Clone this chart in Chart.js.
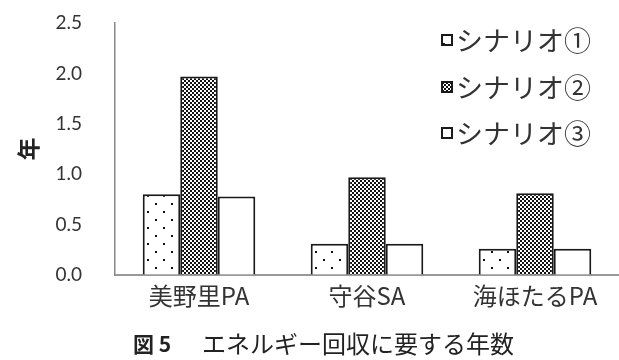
<!DOCTYPE html>
<html>
<head>
<meta charset="utf-8">
<script src="https://cdn.jsdelivr.net/npm/chart.js@4"></script>
<style>
  html, body { margin: 0; padding: 0; background: #fff; }
  #wrap { width: 619px; height: 360px; position: relative; }
</style>
</head>
<body>
<div id="wrap"><canvas id="c" width="619" height="360"></canvas></div>
<script>
// Payback period (years) for each service area under three scenarios
const categories = ['美野里PA', '守谷SA', '海ほたるPA'];
const seriesNames = ['シナリオ①', 'シナリオ②', 'シナリオ③'];
const scenario1 = [0.80, 0.31, 0.26];
const scenario2 = [1.97, 0.97, 0.81];
const scenario3 = [0.78, 0.31, 0.26];
const yTicks = [0, 0.5, 1.0, 1.5, 2.0, 2.5];
const yTitle = '年';
const captionHead = '図 5';
const captionBody = 'エネルギー回収に要する年数';

// Fill patterns: sparse dots, fine checkerboard, plain white
function makeTile(w, h, draw) {
  const cv = document.createElement('canvas');
  cv.width = w; cv.height = h;
  const g = cv.getContext('2d');
  g.fillStyle = '#fff';
  g.fillRect(0, 0, w, h);
  draw(g);
  return document.createElement('canvas').getContext('2d').createPattern(cv, 'repeat');
}
const dotFill = makeTile(16, 16, g => {
  g.fillStyle = '#111';
  g.fillRect(3, 3, 2, 2);
  g.fillRect(11, 11, 2, 2);
});
const checkFill = makeTile(4, 4, g => {
  g.fillStyle = '#111';
  g.fillRect(0, 0, 2, 2);
  g.fillRect(2, 2, 2, 2);
});
const fills = [dotFill, checkFill, '#ffffff'];

const datasets = [scenario1, scenario2, scenario3].map((vals, i) => ({
  label: seriesNames[i],
  data: vals,
  backgroundColor: fills[i],
  borderColor: '#1a1a1a',
  borderWidth: 2,
  borderSkipped: 'bottom',
  categoryPercentage: 0.67,
  barPercentage: 1.0
}));

// Legend stacked in the upper right, over the plot area
const legendPlugin = {
  id: 'insetLegend',
  afterDatasetsDraw(chart) {
    const ctx = chart.ctx;
    const rows = [40, 87, 133];
    ctx.save();
    chart.data.datasets.forEach((ds, i) => {
      const y = rows[i];
      ctx.fillStyle = ds.backgroundColor;
      ctx.fillRect(442, y - 5, 10, 10);
      ctx.lineWidth = 2;
      ctx.strokeStyle = '#1a1a1a';
      ctx.strokeRect(442, y - 5, 10, 10);
      ctx.fillStyle = '#333';
      ctx.font = '27px "Noto Sans CJK JP"';
      ctx.textBaseline = 'middle';
      ctx.textAlign = 'left';
      ctx.fillText(ds.label, 456, y + 1);
    });
    ctx.restore();
  }
};

// Figure caption under the axis
const captionPlugin = {
  id: 'caption',
  afterDraw(chart) {
    const ctx = chart.ctx;
    ctx.save();
    ctx.fillStyle = '#222';
    ctx.textBaseline = 'middle';
    ctx.textAlign = 'left';
    ctx.font = 'bold 21px "Noto Sans CJK JP"';
    ctx.fillText(captionHead, 133, 344);
    ctx.font = '24px "Noto Sans CJK JP"';
    ctx.fillText(captionBody, 202, 344);
    ctx.restore();
  }
};

new Chart(document.getElementById('c'), {
  type: 'bar',
  data: { labels: categories, datasets },
  options: {
    responsive: false,
    animation: false,
    layout: { padding: { top: 23, right: 0, bottom: 45, left: 0 } },
    plugins: { legend: { display: false }, tooltip: { enabled: false } },
    scales: {
      x: {
        grid: { display: false, drawTicks: false },
        border: { color: '#999', width: 2 },
        ticks: { color: '#333', font: { family: '"Noto Sans CJK JP"', size: 24 }, padding: 6 },
        afterFit(a) { a.height = 40; }
      },
      y: {
        min: 0, max: 2.5,
        afterBuildTicks(a) { a.ticks = yTicks.map(v => ({ value: v })); },
        grid: { display: true, drawOnChartArea: false, drawTicks: true, tickLength: 30, tickColor: 'rgba(0,0,0,0)' },
        border: { color: '#888', width: 1.5 },
        ticks: {
          color: '#333',
          font: { family: 'Lato', size: 19 },
          padding: 3,
          callback: v => Number(v).toFixed(1)
        },
        title: {
          display: true, text: yTitle, color: '#222',
          font: { family: '"Noto Sans CJK JP"', size: 23, weight: 'bold' },
          padding: { top: 14, bottom: 0 }
        },
        afterFit(a) { a.width = 115; }
      }
    }
  },
  plugins: [legendPlugin, captionPlugin]
});
</script>
</body>
</html>
